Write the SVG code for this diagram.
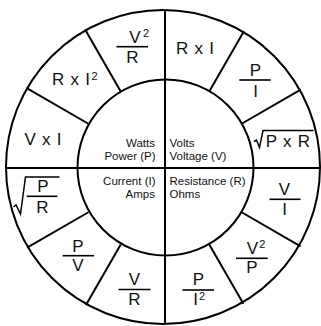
<svg xmlns="http://www.w3.org/2000/svg" width="321" height="326" viewBox="0 0 321 326">
<style>
.ln{stroke:#000;stroke-width:2;fill:none}
.bar{stroke:#000;stroke-width:1.6;fill:none}
.rad{stroke:#000;stroke-width:1.5;fill:none;stroke-linejoin:miter}
text{font-family:"Liberation Sans",Arial,sans-serif;fill:#111}
.t{font-size:17px;text-anchor:middle}
.w{word-spacing:1.5px}
.s{font-size:11px;text-anchor:start}
.c{font-size:11.5px}
.e{text-anchor:end}
</style>
<rect width="321" height="326" fill="#fff"/>
<g id="connectors">
<circle class="ln" cx="163" cy="167" r="157"/>
<circle class="ln" cx="165.5" cy="167.5" r="88"/>
<line class="ln" x1="165" y1="10" x2="165" y2="324"/>
<line class="ln" x1="6" y1="168" x2="320" y2="168"/>
<line class="ln" x1="88.4" y1="123.75" x2="26.3" y2="87.9"/>
<line class="ln" x1="120.75" y1="91.4" x2="85.1" y2="29.6"/>
<line class="ln" x1="209.25" y1="91.4" x2="243.9" y2="31.3"/>
<line class="ln" x1="241.6" y1="123.75" x2="300.7" y2="89.6"/>
<line class="ln" x1="241.6" y1="212.25" x2="300.6" y2="246.3"/>
<line class="ln" x1="209.25" y1="244.6" x2="243.4" y2="303.8"/>
<line class="ln" x1="120.75" y1="244.6" x2="85.95" y2="304.9"/>
<line class="ln" x1="88.4" y1="212.25" x2="27.1" y2="247.6"/>
</g>
<g id="power">
<text class="c e" x="155" y="146.5">Watts</text>
<text class="c e" x="155.5" y="159.5">Power (P)</text>
</g>
<g id="voltage">
<text class="c" x="169.5" y="146.5">Volts</text>
<text class="c" x="169.5" y="159.5">Voltage (V)</text>
</g>
<g id="current">
<text class="c e" x="155.5" y="184.5">Current (I)</text>
<text class="c e" x="155" y="197.5">Amps</text>
</g>
<g id="resistance">
<text class="c" x="169.5" y="184.5">Resistance (R)</text>
<text class="c" x="169.5" y="197.5">Ohms</text>
</g>
<g id="p-v2-over-r">
<text class="t" x="135" y="43.3">V</text>
<text class="s" x="143" y="36.7">2</text>
<line class="bar" x1="116.5" y1="46.7" x2="148" y2="46.7"/>
<text class="t" x="132.5" y="63.3">R</text>
</g>
<g id="p-r-x-i2">
<text class="t w" x="71" y="85">R x I</text>
<text class="s" x="91.5" y="79.5">2</text>
</g>
<g id="p-v-x-i">
<text class="t w" x="43" y="144.5">V x I</text>
</g>
<g id="v-r-x-i">
<text class="t w" x="195" y="54">R x I</text>
</g>
<g id="v-p-over-i">
<text class="t" x="255.3" y="76">P</text>
<line class="bar" x1="239.3" y1="80" x2="270.7" y2="80"/>
<text class="t" x="255.5" y="96.7">I</text>
</g>
<g id="v-sqrt-p-x-r">
<polyline class="rad" points="254,141.5 256.5,140 259.5,147.5 263,130.5 313.5,130.5"/>
<text class="t w" x="288" y="146.5">P x R</text>
</g>
<g id="r-v-over-i">
<text class="t" x="284.5" y="195">V</text>
<line class="bar" x1="269.5" y1="199.3" x2="300.5" y2="199.3"/>
<text class="t" x="284.5" y="215">I</text>
</g>
<g id="r-v2-over-p">
<text class="t" x="252.3" y="254">V</text>
<text class="s" x="259.3" y="248.3">2</text>
<line class="bar" x1="236" y1="258.3" x2="267.7" y2="258.3"/>
<text class="t" x="252" y="273.3">P</text>
</g>
<g id="r-p-over-i2">
<text class="t" x="198.3" y="285">P</text>
<line class="bar" x1="182.5" y1="290" x2="214" y2="290"/>
<text class="t" x="195.5" y="305">I</text>
<text class="s" x="199" y="300">2</text>
</g>
<g id="i-v-over-r">
<text class="t" x="134.3" y="285">V</text>
<line class="bar" x1="118.5" y1="289.5" x2="150.5" y2="289.5"/>
<text class="t" x="134.3" y="305">R</text>
</g>
<g id="i-p-over-v">
<text class="t" x="78" y="252.3">P</text>
<line class="bar" x1="62.7" y1="255.7" x2="94" y2="255.7"/>
<text class="t" x="77.8" y="271.3">V</text>
</g>
<g id="i-sqrt-p-over-r">
<polyline class="rad" points="13.5,207 16,205 20.5,214 25.5,177 59.5,177"/>
<text class="t" x="42.8" y="191.5">P</text>
<line class="bar" x1="26.7" y1="196.3" x2="57.3" y2="196.3"/>
<text class="t" x="42.5" y="212.5">R</text>
</g>
</svg>
